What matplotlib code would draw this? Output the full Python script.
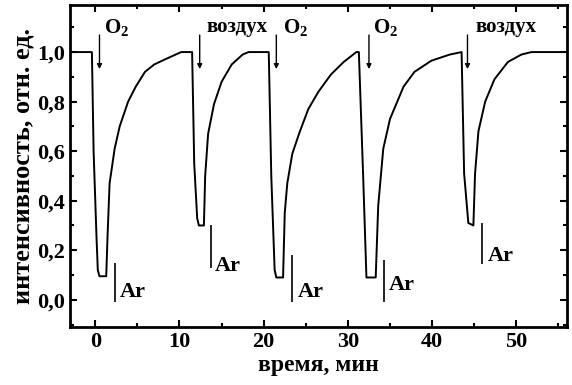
import matplotlib.pyplot as plt
from matplotlib.ticker import MultipleLocator, FuncFormatter

# recorded trace (time in min, relative intensity)
time = [-3, -0.4, -0.2, 0.15, 0.3, 0.5, 1.3, 1.45, 1.7, 2.3, 2.9, 3.9, 4.8, 5.9, 7.0, 8.25, 10.2, 11.5,
        11.75, 12.1, 12.3, 12.9, 13.05, 13.4, 14.1, 15.0, 16.2, 17.5, 18.2, 20.6,
        20.9, 21.3, 21.5, 22.3, 22.5, 22.8, 23.4, 24.3, 25.3, 26.5, 28.0, 29.5, 31.0, 31.3,
        31.8, 32.2, 33.3, 33.6, 34.2, 35.0, 36.6, 37.9, 39.9, 42.1, 43.5,
        43.8, 44.3, 44.9, 45.1, 45.5, 46.3, 47.4, 49.0, 50.6, 51.8, 56]
intensity = [1.0, 1.0, 0.6, 0.25, 0.12, 0.095, 0.095, 0.25, 0.47, 0.61, 0.70, 0.80, 0.86, 0.92, 0.95, 0.97, 1.0, 1.0,
             0.55, 0.33, 0.30, 0.30, 0.5, 0.67, 0.79, 0.88, 0.95, 0.99, 1.0, 1.0,
             0.5, 0.12, 0.09, 0.09, 0.35, 0.47, 0.59, 0.68, 0.77, 0.84, 0.91, 0.96, 1.0, 1.0,
             0.51, 0.09, 0.09, 0.38, 0.61, 0.73, 0.86, 0.92, 0.965, 0.99, 1.0,
             0.51, 0.31, 0.30, 0.51, 0.68, 0.80, 0.89, 0.96, 0.99, 1.0, 1.0]

# gas switching marks
gas_labels = ["O$_2$", "воздух", "O$_2$", "O$_2$", "воздух"]
gas_arrow_x = [0.5, 12.4, 21.5, 32.5, 44.2]
gas_text_x = [1.0, 13.2, 22.3, 33.0, 45.1]

ar_x = [2.3, 13.7, 23.4, 34.3, 45.9]
ar_top = [0.15, 0.30, 0.18, 0.16, 0.31]
ar_bottom = [-0.01, 0.13, -0.01, -0.01, 0.145]
ar_text_x = [2.9, 14.2, 24.0, 34.9, 46.6]
ar_text_y = [0.03, 0.135, 0.03, 0.06, 0.175]

plt.rcParams['font.family'] = ['Liberation Serif', 'DejaVu Serif']
plt.rcParams['font.weight'] = 'bold'
plt.rcParams['mathtext.fontset'] = 'custom'
plt.rcParams['mathtext.rm'] = 'Liberation Serif:bold'
plt.rcParams['mathtext.it'] = 'Liberation Serif:bold'
plt.rcParams['mathtext.bf'] = 'Liberation Serif:bold'

fig = plt.figure(figsize=(5.72, 3.85), dpi=100)
ax = fig.add_axes([0.1224, 0.1506, 0.8686, 0.8364])

ax.plot(time, intensity, color='black', lw=1.4)

for lab, xa, xt in zip(gas_labels, gas_arrow_x, gas_text_x):
    ax.annotate("", xy=(xa, 0.92), xytext=(xa, 1.08),
                arrowprops=dict(arrowstyle='-|>', color='black', lw=1.0, mutation_scale=7))
    ax.text(xt, 1.10, lab, fontsize=15, fontweight='bold', va='center', ha='left')

ax.vlines(ar_x, ar_bottom, ar_top, color='black', lw=1.2)
for xt, yt in zip(ar_text_x, ar_text_y):
    ax.text(xt, yt, "Ar", fontsize=16, fontweight='bold', va='center', ha='left')

ax.set_xlim(-3, 56)
ax.set_ylim(-0.11, 1.19)
ax.xaxis.set_major_locator(MultipleLocator(10))
ax.xaxis.set_minor_locator(MultipleLocator(5))
ax.yaxis.set_major_locator(MultipleLocator(0.2))
ax.yaxis.set_minor_locator(MultipleLocator(0.1))
ax.yaxis.set_major_formatter(FuncFormatter(lambda v, p: f"{v:.1f}".replace('.', ',').replace('-0,0', '0,0')))
ax.tick_params(which='both', direction='in', top=True, right=True, width=1.5, labelsize=16)
ax.tick_params(which='major', length=5)
ax.tick_params(which='minor', length=3)
for s in ax.spines.values():
    s.set_linewidth(2)

ax.set_xlabel("время, мин", fontsize=17, fontweight='bold', labelpad=2)
ax.set_ylabel("интенсивность, отн. ед.", fontsize=19, fontweight='bold', labelpad=2)

fig.savefig("out.png", dpi=100)
